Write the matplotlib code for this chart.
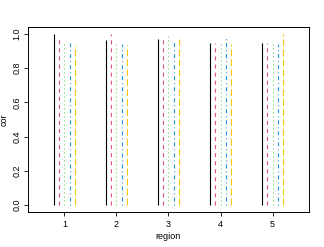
import matplotlib
matplotlib.use("Agg")
import matplotlib.pyplot as plt
import numpy as np

plt.rcParams['font.family'] = ['Liberation Sans', 'DejaVu Sans']
plt.rcParams['lines.scale_dashes'] = False

regions = [1, 2, 3, 4, 5]
s1 = [1.000, 0.967, 0.969, 0.949, 0.949]
s2 = [0.971, 1.000, 0.971, 0.949, 0.949]
s3 = [0.961, 0.960, 0.996, 0.961, 0.961]
s4 = [0.945, 0.940, 0.961, 0.988, 0.940]
s5 = [0.937, 0.937, 0.971, 0.940, 1.000]
series = [s1, s2, s3, s4, s5]
offsets = [-0.2, -0.1, 0.0, 0.1, 0.2]
colors = ['#000000', '#DF536B', '#61D04F', '#2297E6', '#F5C710']
styles = ['solid', (0, (2.9, 2.9)), (0, (0.72, 2.16)),
          (0, (0.72, 2.16, 2.9, 2.16)), (0, (5.0, 2.16))]

fig = plt.figure(figsize=(3.24, 2.47), dpi=100)
ax = fig.add_axes([28/324, (247-212)/247, (309-28)/324, (212-27)/247])

for vals, off, c, ls in zip(series, offsets, colors, styles):
    x = np.array(regions) + off
    ax.vlines(x, 0, vals, colors=c, linestyles=ls, linewidth=0.8)

ax.set_xlim(0.3, 5.7)
ax.set_ylim(-0.04, 1.04)
ax.set_xticks(regions)
ax.set_yticks([0.0, 0.2, 0.4, 0.6, 0.8, 1.0])
ax.set_yticklabels(['0.0', '0.2', '0.4', '0.6', '0.8', '1.0'], rotation=90, va='center')
ax.tick_params(labelsize=6.5, length=3, width=0.6, pad=3)
ax.tick_params(axis='y', pad=1.5)
for sp in ax.spines.values():
    sp.set_linewidth(0.7)
ax.set_xlabel('region', fontsize=6.5, labelpad=2)
ax.set_ylabel('cor', fontsize=6.5, labelpad=3)

fig.savefig('out.png', dpi=100)
